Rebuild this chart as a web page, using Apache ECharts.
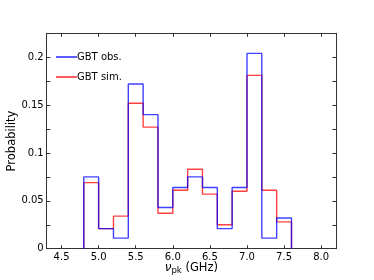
<!DOCTYPE html>
<html>
<head>
<meta charset="utf-8">
<script src="https://cdn.jsdelivr.net/npm/echarts@6/dist/echarts.min.js"></script>
<style>html,body{margin:0;padding:0;background:#fff}#c{width:374px;height:280px}</style>
</head>
<body>
<div id="c"></div>
<script>
const binEdges = [4.8, 5.0, 5.2, 5.4, 5.6, 5.8, 6.0, 6.2, 6.4, 6.6, 6.8, 7.0, 7.2, 7.4, 7.6];
const obsValues = [0.075, 0.021, 0.011, 0.172, 0.140, 0.043, 0.064, 0.075, 0.064, 0.021, 0.064, 0.204, 0.011, 0.032];
const simValues = [0.069, 0.021, 0.034, 0.152, 0.127, 0.037, 0.061, 0.083, 0.057, 0.025, 0.060, 0.181, 0.061, 0.028];
const xTicks = [4.5, 5.0, 5.5, 6.0, 6.5, 7.0, 7.5, 8.0];
const yTicks = [0, 0.025, 0.05, 0.075, 0.1, 0.125, 0.15, 0.175, 0.2];
const yLabels = ['0', '', '0.05', '', '0.1', '', '0.15', '', '0.2'];
const seriesNames = ['GBT obs.', 'GBT sim.'];

function stepPath(edges, vals) {
  const pts = [[edges[0], 0]];
  for (let i = 0; i < vals.length; i++) {
    pts.push([edges[i], vals[i]]);
    pts.push([edges[i + 1], vals[i]]);
  }
  pts.push([edges[edges.length - 1], 0]);
  return pts;
}

const axisCol = '#333';
const font = 'DejaVu Sans';
const chart = echarts.init(document.getElementById('c'));
const commonX = {
  type: 'value', min: 4.3, max: 8.2,
  axisLine: { show: true, onZero: false, lineStyle: { color: axisCol, width: 1 } },
  splitLine: { show: false },
  axisTick: { show: true, inside: true, length: 3.5, customValues: xTicks, lineStyle: { color: axisCol } }
};
const commonY = {
  type: 'value', min: 0, max: 0.225,
  axisLine: { show: true, lineStyle: { color: axisCol, width: 1 } },
  splitLine: { show: false },
  axisTick: { show: true, inside: true, length: 3.5, customValues: yTicks, lineStyle: { color: axisCol } }
};
chart.setOption({
  animation: false,
  grid: { left: 46.7, right: 38, top: 33.3, bottom: 31.3, containLabel: false, outerBoundsMode: 'none' },
  legend: {
    orient: 'vertical', left: 56, top: 52, padding: 0,
    data: seriesNames,
    icon: 'rect', itemWidth: 21, itemHeight: 1.5, itemGap: 10,
    textStyle: { fontFamily: font, fontSize: 10, color: '#000', padding: [0, 0, 0, -5] }
  },
  xAxis: [
    Object.assign({}, commonX, {
      position: 'bottom',
      name: '{i|ν}{s|pk}{n| (GHz)}', nameLocation: 'middle', nameGap: 12, nameMoveOverlap: false,
      nameTextStyle: { rich: {
        i: { fontFamily: font, fontSize: 12, fontStyle: 'italic', color: '#000' },
        s: { fontFamily: font, fontSize: 8.5, color: '#000', verticalAlign: 'bottom', padding: [6, 0, 0, 0] },
        n: { fontFamily: font, fontSize: 11.5, color: '#000' }
      } },
      axisLabel: { show: true, customValues: xTicks, fontFamily: font, fontSize: 10, color: '#000', margin: 4,
        formatter: v => v.toFixed(1) }
    }),
    Object.assign({}, commonX, { position: 'top', axisLabel: { show: false } })
  ],
  yAxis: [
    Object.assign({}, commonY, {
      position: 'left',
      name: 'Probability', nameLocation: 'middle', nameGap: 29, nameMoveOverlap: false,
      nameTextStyle: { fontFamily: font, fontSize: 11.5, color: '#000' },
      axisLabel: { show: true, customValues: yTicks, fontFamily: font, fontSize: 10, color: '#000', margin: 3,
        formatter: v => { const i = yTicks.findIndex(t => Math.abs(t - v) < 1e-9); return i >= 0 ? yLabels[i] : ''; } }
    }),
    Object.assign({}, commonY, { position: 'right', axisLabel: { show: false } })
  ],
  series: [
    {
      name: seriesNames[1], type: 'line', data: stepPath(binEdges, simValues),
      symbol: 'none', lineStyle: { color: 'rgba(255,0,0,0.75)', width: 1.4 }, itemStyle: { color: 'rgba(255,0,0,0.85)' }
    },
    {
      name: seriesNames[0], type: 'line', data: stepPath(binEdges, obsValues),
      symbol: 'none', lineStyle: { color: 'rgba(0,0,255,0.75)', width: 1.4 }, itemStyle: { color: 'rgba(0,0,255,0.85)' }
    }
  ]
});
</script>
</body>
</html>
